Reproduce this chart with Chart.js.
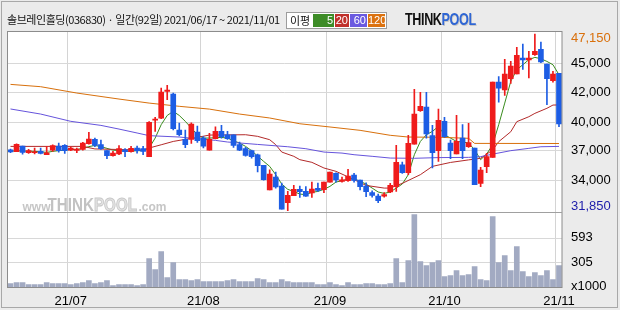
<!DOCTYPE html>
<html>
<head>
<meta charset="utf-8">
<script src="https://cdn.jsdelivr.net/npm/chart.js@4.4.0/dist/chart.umd.min.js"></script>
<style>
  body { margin:0; width:620px; height:310px; background:#ebebeb; position:relative; overflow:hidden; font-family:"Noto Sans CJK KR", sans-serif; }
  #frame { position:absolute; left:1px; top:1px; width:615px; height:305px; border:1px solid #a8a8a8; }
  #chart { position:absolute; left:0; top:0; }
  #title { position:absolute; left:7px; top:12px; font-size:11px; line-height:14px; color:#111; white-space:nowrap; letter-spacing:-0.45px; }
  #legend { position:absolute; left:286px; top:12px; width:99px; height:15px; background:#fff; border:1px solid #9c9c9c; }
  #legend .lbl { position:absolute; left:3px; top:0; font-size:11px; line-height:15px; color:#111; }
  #legend .box { position:absolute; top:1px; height:13px; line-height:13px; color:#fff; text-align:right; padding-right:1px; box-sizing:border-box; font:11px "Liberation Sans", sans-serif; }
  #logo { position:absolute; left:405px; top:10px; font:bold 17px "Liberation Sans", sans-serif; transform:scaleX(0.74); transform-origin:left top; letter-spacing:-0.5px; }
  #logo .t { color:#111; }
  #logo .p { color:#2f66d4; text-shadow:1px 1px 0 #c8c8c8; }
</style>
</head>
<body>
<div id="frame"></div>
<canvas id="chart" width="620" height="310"></canvas>
<div id="title">솔브레인홀딩(036830) · 일간(92일) 2021/06/17 ~ 2021/11/01</div>
<div id="legend">
  <span class="lbl">이평</span>
  <span class="box" style="left:26px;width:21px;background:#3d8c27">5</span>
  <span class="box" style="left:48px;width:14px;background:#c0302a">20</span>
  <span class="box" style="left:63px;width:17px;background:#6a5ae0">60</span>
  <span class="box" style="left:81px;width:17px;background:#dc7210">120</span>
</div>
<div id="logo"><span class="t">THINK</span><span class="p">POOL</span></div>
<script>
// trading days 2021/06/17 ~ 2021/11/01
const dates = ['06/17','06/18','06/21','06/22','06/23','06/24','06/25','06/28','06/29','06/30',
  '07/01','07/02','07/05','07/06','07/07','07/08','07/09','07/12','07/13','07/14','07/15','07/16',
  '07/19','07/20','07/21','07/22','07/23','07/26','07/27','07/28','07/29','07/30',
  '08/02','08/03','08/04','08/05','08/06','08/09','08/10','08/11','08/12','08/13',
  '08/17','08/18','08/19','08/20','08/23','08/24','08/25','08/26','08/27','08/30','08/31',
  '09/01','09/02','09/03','09/06','09/07','09/08','09/09','09/10','09/13','09/14','09/15','09/16','09/17',
  '09/23','09/24','09/27','09/28','09/29','09/30',
  '10/01','10/05','10/06','10/07','10/08','10/12','10/13','10/14','10/15',
  '10/18','10/19','10/20','10/21','10/22','10/25','10/26','10/27','10/28','10/29',
  '11/01']

const opens = [37130,36960,37450,36870,36870,36990,36700,37100,37450,37510,
  37100,37070,37160,37650,38030,37570,37050,36610,36760,37130,
  36960,37280,37220,36530,39700,39870,42190,41950,38840,38030,
  38030,38660,38140,37100,38090,38720,38430,38430,37570,37220,
  37050,36700,35780,33640,34770,33990,32540,33150,33700,33520,
  33380,33780,33670,34330,35080,34390,34450,34940,34510,33990,
  33410,33120,33120,33470,33930,35830,35140,37620,40510,40830,
  38350,37050,39590,37710,36760,38140,37390,37280,34220,35660,
  36470,42990,42300,43280,43690,45070,44900,45360,45820,44550,
  43110,43740]
const highs = [37190,37650,37450,37160,37280,37280,37420,37560,37710,37570,
  37360,37280,37770,38630,38140,37970,37050,36990,37480,37220,
  37420,37450,37420,39560,39930,42470,42700,42040,39440,38840,
  39470,39180,38260,38550,39120,39240,38720,38430,37800,37340,
  37100,36760,35780,35400,35200,34250,33520,34040,33990,33930,
  34330,34250,34330,35200,35140,34770,35430,35080,34510,34270,
  33580,33290,33410,34220,37510,36060,38370,42360,42100,42100,
  39240,40660,39930,37970,40110,39300,39410,37280,35600,36820,
  42990,43460,44960,44780,46000,46280,45650,47150,46460,44550,
  43920,43740]
const lows = [36870,36960,36750,36820,36760,36760,36700,36990,36930,36810,
  37050,36870,37100,37620,37390,37160,36350,36580,36700,36530,
  36930,36840,36700,36530,38720,39820,41460,38840,38320,37310,
  37680,37770,37280,37100,38060,38140,38030,37340,37040,36580,
  36410,35200,34500,33640,33810,31990,31850,33150,33000,33090,
  33000,33520,33410,34330,34330,34330,34390,34330,33640,33060,
  33030,32540,33030,33410,33520,35080,34970,37620,40450,38140,
  35550,36120,38200,36350,36760,36350,37340,34100,33930,35140,
  36470,41260,41840,42880,43690,44090,43340,45300,44670,41030,
  42990,39120]
const closes = [36950,37590,36900,37050,36960,36820,36870,37480,37050,37050,
  37280,37190,37710,38060,37510,37220,36610,36840,37220,36960,
  37250,37050,36990,39500,39760,42130,42300,38950,38430,37570,
  39360,37910,37450,38030,38720,38260,38090,37510,37100,36640,
  36530,35750,34530,35030,33900,31990,33180,33700,33500,33120,
  33730,33610,34330,35200,34510,34530,34850,34480,33930,33500,
  33180,32720,33240,34040,36040,35140,37680,40220,40890,38490,
  36870,39670,38260,37050,37850,37050,37740,34100,35370,36530,
  42990,42470,43690,44380,45300,44900,45070,45650,44730,43280,
  43690,39360]
// volume, x1000 shares
const volumes = [48,60,60,36,36,36,60,48,48,48,
  36,48,60,84,48,60,84,24,36,36,
  36,24,36,346,215,430,119,298,95,95,
  84,95,72,72,72,72,84,95,72,72,
  72,107,95,60,60,95,72,60,60,60,
  60,36,36,60,36,24,60,36,36,48,
  48,36,36,48,346,60,322,871,310,262,
  298,322,131,143,203,143,155,251,95,84,
  847,298,382,203,489,191,131,179,143,203,
  95,262]

// moving averages
const ma5 = [36990,37050,37020,37000,36990,36950,36900,36990,37050,37100,
  37150,37150,37250,37400,37500,37400,37250,37100,37050,37000,
  37000,37050,37050,37280,38140,39300,40100,40450,40100,39590,
  39010,38430,38140,38140,38170,38200,38140,37910,37710,37420,
  37050,36580,36120,35690,34970,34160,33700,33520,33290,33240,
  33440,33520,33700,33960,34330,34450,34590,34620,34390,34160,
  33810,33470,33350,33470,33810,34160,34970,36700,37850,38430,
  38720,39150,38430,38140,37850,37800,37710,37130,36270,36760,
  37570,39300,41170,43050,44060,44490,44930,45130,45010,44780,
  44490,43630]
// [day index, value]
const ma20Points = [[0,37420],[12,37420],[14,37200],[18,37150],[22,37100],[23,37280],[25,37560],[27,37850],
  [29,38030],[31,38200],[33,38400],[39,38430],[41,38290],[43,38000],[44,37570],[45,36930],[47,36560],
  [48,36270],[50,36040],[52,35550],[54,35260],[57,34540],[59,34040],[62,33810],[63,33810],[65,34220],
  [68,34970],[70,35690],[73,36030],[76,36250],[78,36390],[80,37110],[81,37830],[83,38690],[84,39560],
  [86,39990],[87,40280],[89,40720],[90,41000],[91,41010]]
const ma60Points = [[0,40660],[5,40220],[10,39590],[15,39240],[18,38920],[21,38580],[23,38350],[28,38230],
  [34,37940],[36,37800],[41,37590],[46,37390],[49,37220],[52,36930],[55,36840],[57,36700],[60,36560],
  [63,36410],[67,36390],[71,36450],[76,36470],[78,36530],[80,36750],[83,37050],[86,37250],[88,37390],[91,37420]]
const ma120Points = [[0,42790],[5,42590],[11,42040],[18,41520],[23,41170],[28,40890],[33,40650],[38,40220],
  [43,39880],[48,39380],[53,39100],[58,38810],[63,38380],[66,38230],[71,38210],[76,38120],[77,37680],[91,37670]]

const priceGrid = [44640, 42100, 39510, 37050, 34480]
const priceGridLabels = ['45,000', '42,000', '40,000', '37,000', '34,000']
const priceHigh = 47150
const priceLow = 31850
const volGrid = [0, 305, 593]
const volGridLabels = ['x1000', '305', '593']

const RED = '#ef1b1b', BLUE = '#1d5de4'
const candleColor = closes.map((c, i) => c >= opens[i] ? RED : BLUE)

const fromPoints = pts => {
  const a = dates.map(() => null)
  pts.forEach(([i, v]) => { a[i] = v })
  return a
}
const isMonthStart = i => i > 0 && i < dates.length && dates[i].slice(0, 2) !== dates[i - 1].slice(0, 2)

const axisFont = { family: '"Liberation Sans", Arial, sans-serif', size: 13 }
const AXIS_FONT_CSS = '13px "Liberation Sans", Arial, sans-serif'

// white panels, volume grid, border, watermark, extra labels
const panelPlugin = {
  id: 'panel',
  beforeDraw(chart) {
    const { ctx, chartArea: a } = chart
    ctx.save()
    ctx.fillStyle = '#fff'
    ctx.fillRect(a.left, a.top, a.width, a.height)
    ctx.restore()
  },
  beforeDatasetsDraw(chart) {
    const { ctx, chartArea: a, scales } = chart
    ctx.save()
    // volume panel grid
    ctx.strokeStyle = '#d8d8d8'
    ctx.lineWidth = 1
    volGrid.forEach(v => {
      if (v === 0) return
      const py = Math.round(scales.yv.getPixelForValue(v)) + 0.5
      ctx.beginPath()
      ctx.moveTo(a.left, py)
      ctx.lineTo(a.right, py)
      ctx.stroke()
    })
    // watermark
    const base = a.top + 179
    ctx.fillStyle = '#c6c6c6'
    ctx.font = 'bold 12px "Liberation Sans", sans-serif'
    ctx.fillText('www.', a.left + 15, base)
    ctx.fillText('.com', a.left + 131, base)
    ctx.translate(a.left + 40, base)
    ctx.scale(0.8, 1)
    ctx.font = 'bold 19px "Liberation Sans", sans-serif'
    ctx.fillStyle = '#c2c2c2'
    ctx.fillText('THINK', 0, 0)
    const w = ctx.measureText('THINK').width
    ctx.fillStyle = '#e4e4e4'
    ctx.strokeStyle = '#c8c8c8'
    ctx.fillText('POOL', w, 0)
    ctx.strokeText('POOL', w, 0)
    ctx.restore()
  },
  afterDraw(chart) {
    const { ctx, chartArea: a, scales } = chart
    ctx.save()
    ctx.strokeStyle = '#8c8c8c'
    ctx.lineWidth = 1
    ctx.strokeRect(a.left, a.top, a.width, a.height)
    const split = Math.round(a.top + a.height * 0.705) + 0.5
    ctx.beginPath()
    ctx.moveTo(a.left, split)
    ctx.lineTo(a.right, split)
    ctx.strokeStyle = '#a0a0a0'
    ctx.stroke()
    ctx.font = AXIS_FONT_CSS
    ctx.textAlign = 'left'
    ctx.textBaseline = 'middle'
    const lx = a.right + 9
    ctx.fillStyle = '#d9700c'
    ctx.fillText(priceHigh.toLocaleString('en-US'), lx, scales.y.getPixelForValue(priceHigh) + 4.5)
    ctx.fillStyle = '#1c1caa'
    ctx.fillText(priceLow.toLocaleString('en-US'), lx, scales.y.getPixelForValue(priceLow) - 4)
    ctx.fillStyle = '#000'
    volGrid.forEach((v, i) => {
      ctx.fillText(volGridLabels[i], lx, scales.yv.getPixelForValue(v) - (v === 0 ? 1 : 0))
    })
    ctx.restore()
  }
}

const lineSet = (label, data, color) => ({
  type: 'line', label, data, borderColor: color, borderWidth: 1, pointRadius: 0,
  spanGaps: true, tension: 0, yAxisID: 'y', order: 3
})

new Chart(document.getElementById('chart'), {
  type: 'bar',
  data: {
    labels: dates,
    datasets: [
      { label: 'body', data: opens.map((o, i) => [o, closes[i]]), backgroundColor: candleColor,
        barThickness: 5, minBarLength: 1, grouped: false, yAxisID: 'y', order: 1 },
      { label: 'wick', data: lows.map((l, i) => [l, highs[i]]), backgroundColor: candleColor,
        barThickness: 1, grouped: false, yAxisID: 'y', order: 2 },
      lineSet('120', fromPoints(ma120Points), '#d8700c'),
      lineSet('60', fromPoints(ma60Points), '#6654dc'),
      lineSet('20', fromPoints(ma20Points), '#b32a2a'),
      lineSet('5', ma5, '#3a8c1e'),
      { label: 'volume', data: volumes, backgroundColor: '#a2aac2', barThickness: 5,
        grouped: false, yAxisID: 'yv', order: 4 }
    ]
  },
  options: {
    responsive: false,
    animation: false,
    devicePixelRatio: 1,
    layout: { padding: { left: 7.5, top: 31.5, right: 0, bottom: 0 } },
    plugins: { legend: { display: false }, tooltip: { enabled: false } },
    scales: {
      x: {
        offset: true,
        grid: { offset: true, drawTicks: false,
          color: c => isMonthStart(c.index) ? '#d4d4d4' : 'rgba(0,0,0,0)' },
        border: { display: false },
        ticks: { autoSkip: false, maxRotation: 0, minRotation: 0, padding: 6, color: '#000', font: axisFont,
          callback: (v, i) => isMonthStart(i) ? '21/' + dates[i].slice(0, 2) : '' },
        afterFit: s => { s.height = 22.5 }
      },
      y: {
        position: 'right', min: 25200, max: 47370,
        afterBuildTicks: s => { s.ticks = priceGrid.map(v => ({ value: v })) },
        afterFit: s => { s.width = 58 },
        grid: { color: '#d8d8d8', drawTicks: false },
        border: { display: false },
        ticks: { padding: 9, color: '#000', font: axisFont, callback: (v, i) => priceGridLabels[i] }
      },
      yv: { position: 'right', display: false, min: 0, max: 3054 }
    }
  },
  plugins: [panelPlugin]
})
</script>
</body>
</html>
